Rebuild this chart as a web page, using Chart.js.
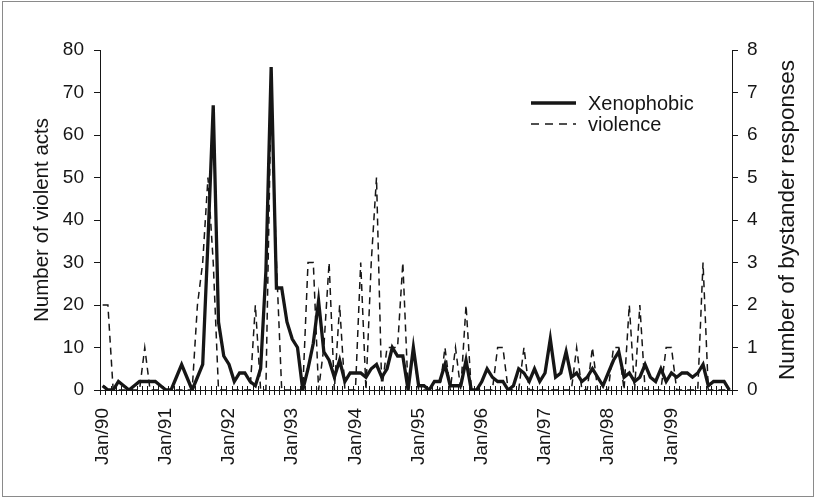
<!DOCTYPE html>
<html>
<head>
<meta charset="utf-8">
<script src="https://cdn.jsdelivr.net/npm/chart.js"></script>
<style>
  html, body { margin: 0; padding: 0; background: #fff; }
  #wrap { position: relative; width: 815px; height: 498px; }
  #frame { position: absolute; left: 2px; top: 1px; width: 810px; height: 494px; border: 1px solid #8a8a8a; pointer-events: none; }
  canvas { position: absolute; left: 0; top: 0; }
</style>
</head>
<body>
<div id="wrap">
  <canvas id="chart" width="815" height="498"></canvas>
  <div id="frame"></div>
</div>
<script>
// Monthly data, Jan 1990 - Dec 1999
const years = ['90', '91', '92', '93', '94', '95', '96', '97', '98', '99'];
const monthNames = ['Jan', 'Feb', 'Mar', 'Apr', 'May', 'Jun', 'Jul', 'Aug', 'Sep', 'Oct', 'Nov', 'Dec'];
const categories = [];
years.forEach(y => monthNames.forEach(m => categories.push(m + '/' + y)));

const tickLabels = ['Jan/90', 'Jan/91', 'Jan/92', 'Jan/93', 'Jan/94', 'Jan/95', 'Jan/96', 'Jan/97', 'Jan/98', 'Jan/99'];

// Number of violent acts (left axis)
const violentActs = [
  1, 0, 0, 2, 1, 0, 1, 2, 2, 2, 2, 1,
  0, 0, 3, 6, 3, 0, 3, 6, 35, 67, 16, 8,
  6, 2, 4, 4, 2, 1, 5, 28, 76, 24, 24, 16,
  12, 10, 0, 5, 11, 21, 9, 7, 3, 7, 2, 4,
  4, 4, 3, 5, 6, 3, 5, 10, 8, 8, 0, 10,
  1, 1, 0, 2, 2, 6, 1, 1, 1, 7, 0, 0,
  2, 5, 3, 2, 2, 0, 1, 5, 4, 2, 5, 2,
  4, 12, 3, 4, 9, 3, 4, 2, 3, 5, 3, 1,
  4, 7, 9, 3, 4, 2, 3, 6, 3, 2, 5, 2,
  4, 3, 4, 4, 3, 4, 6, 1, 2, 2, 2, 0
];

// Number of bystander responses (right axis)
const bystanderResponses = [
  2, 2, 0, 0, 0, 0, 0, 0, 1, 0, 0, 0,
  0, 0, 0, 0, 0, 0, 2, 3, 5, 3, 0, 0,
  0, 0, 0, 0, 0, 2, 0, 0, 7, 3, 0, 0,
  0, 0, 0, 3, 3, 0, 1, 3, 0, 2, 0, 0,
  0, 3, 0, 3, 5, 0, 1, 1, 1, 3, 0, 1,
  0, 0, 0, 0, 0, 1, 0, 1, 0, 2, 0, 0,
  0, 0, 0, 1, 1, 0, 0, 0, 1, 0, 0, 0,
  0, 0, 0, 0, 0, 0, 1, 0, 0, 1, 0, 0,
  0, 1, 1, 0, 2, 0, 2, 0, 0, 0, 0, 1,
  1, 0, 0, 0, 0, 0, 3, 0, 0, 0, 0, 0
];

const ink = '#161616';
const fontFamily = 'Arial, "Liberation Sans", sans-serif';

// cross-shaped tick marks at every month boundary on the x axis
const crossTicks = {
  id: 'crossTicks',
  afterDatasetsDraw(chart) {
    const x = chart.scales.x;
    const ctx = chart.ctx;
    const y0 = chart.chartArea.bottom;
    ctx.save();
    ctx.strokeStyle = ink;
    ctx.lineWidth = 1;
    ctx.beginPath();
    for (let i = 0; i <= categories.length; i++) {
      let px;
      if (i === 0) px = x.left;
      else if (i === categories.length) px = x.right;
      else px = (x.getPixelForValue(i - 1) + x.getPixelForValue(i)) / 2;
      px = Math.round(px) + 0.5;
      ctx.moveTo(px, y0 - 4);
      ctx.lineTo(px, y0 + 5);
    }
    ctx.stroke();
    ctx.restore();
  }
};

// legend drawn inside the plot, plus the right axis title (reads bottom to top)
const extras = {
  id: 'extras',
  afterDraw(chart) {
    const ctx = chart.ctx;
    ctx.save();
    ctx.fillStyle = ink;
    ctx.strokeStyle = ink;
    ctx.font = '20px ' + fontFamily;
    ctx.textBaseline = 'middle';
    ctx.textAlign = 'left';
    const items = chart.data.datasets;
    const rows = [103, 124];
    items.forEach((ds, i) => {
      ctx.beginPath();
      ctx.lineWidth = ds.borderWidth;
      ctx.setLineDash(ds.borderDash ? [8, 6] : []);
      ctx.moveTo(531, rows[i]);
      ctx.lineTo(576, rows[i]);
      ctx.stroke();
      ctx.setLineDash([]);
      ctx.fillText(ds.label, 588, rows[i] + 1);
    });

    ctx.font = '22.5px ' + fontFamily;
    ctx.translate(788, 220);
    ctx.rotate(-Math.PI / 2);
    ctx.textAlign = 'center';
    ctx.fillText('Number of bystander responses', 0, 0);
    ctx.restore();
  }
};

new Chart(document.getElementById('chart'), {
  type: 'line',
  data: {
    labels: categories,
    datasets: [
      {
        label: 'Xenophobic',
        data: violentActs,
        yAxisID: 'y',
        borderColor: ink,
        borderWidth: 3.3,
        pointRadius: 0,
        tension: 0,
        fill: false
      },
      {
        label: 'violence',
        data: bystanderResponses,
        yAxisID: 'y2',
        borderColor: ink,
        borderWidth: 1.5,
        borderDash: [7, 5],
        pointRadius: 0,
        tension: 0,
        fill: false
      }
    ]
  },
  options: {
    responsive: false,
    animation: false,
    devicePixelRatio: 1,
    layout: { padding: { top: 50, left: 0, right: 0, bottom: 0 } },
    plugins: {
      legend: { display: false },
      tooltip: { enabled: false }
    },
    scales: {
      x: {
        type: 'category',
        offset: true,
        grid: { display: false, offset: true },
        border: { display: true, color: ink, width: 1 },
        ticks: {
          autoSkip: false,
          minRotation: 90,
          maxRotation: 90,
          padding: 10,
          color: ink,
          font: { size: 19, family: fontFamily },
          callback: (v, i) => tickLabels.includes(categories[i]) ? categories[i] : ''
        },
        afterFit: s => { s.height = 108; }
      },
      y: {
        position: 'left',
        min: 0,
        max: 80,
        ticks: { stepSize: 10, color: ink, padding: 10, font: { size: 19, family: fontFamily } },
        grid: { drawOnChartArea: false, drawTicks: true, tickLength: 6, color: ink },
        border: { display: true, color: ink, width: 1 },
        title: {
          display: true,
          text: 'Number of violent acts',
          color: ink,
          font: { size: 20.5, family: fontFamily },
          padding: { top: 30, bottom: 0 }
        },
        afterFit: s => { s.width = 100; }
      },
      y2: {
        position: 'right',
        min: 0,
        max: 8,
        ticks: { stepSize: 1, color: ink, padding: 9, font: { size: 19, family: fontFamily } },
        grid: { drawOnChartArea: false, drawTicks: true, tickLength: 6, color: ink },
        border: { display: true, color: ink, width: 1 },
        afterFit: s => { s.width = 83; }
      }
    }
  },
  plugins: [crossTicks, extras]
});
</script>
</body>
</html>
